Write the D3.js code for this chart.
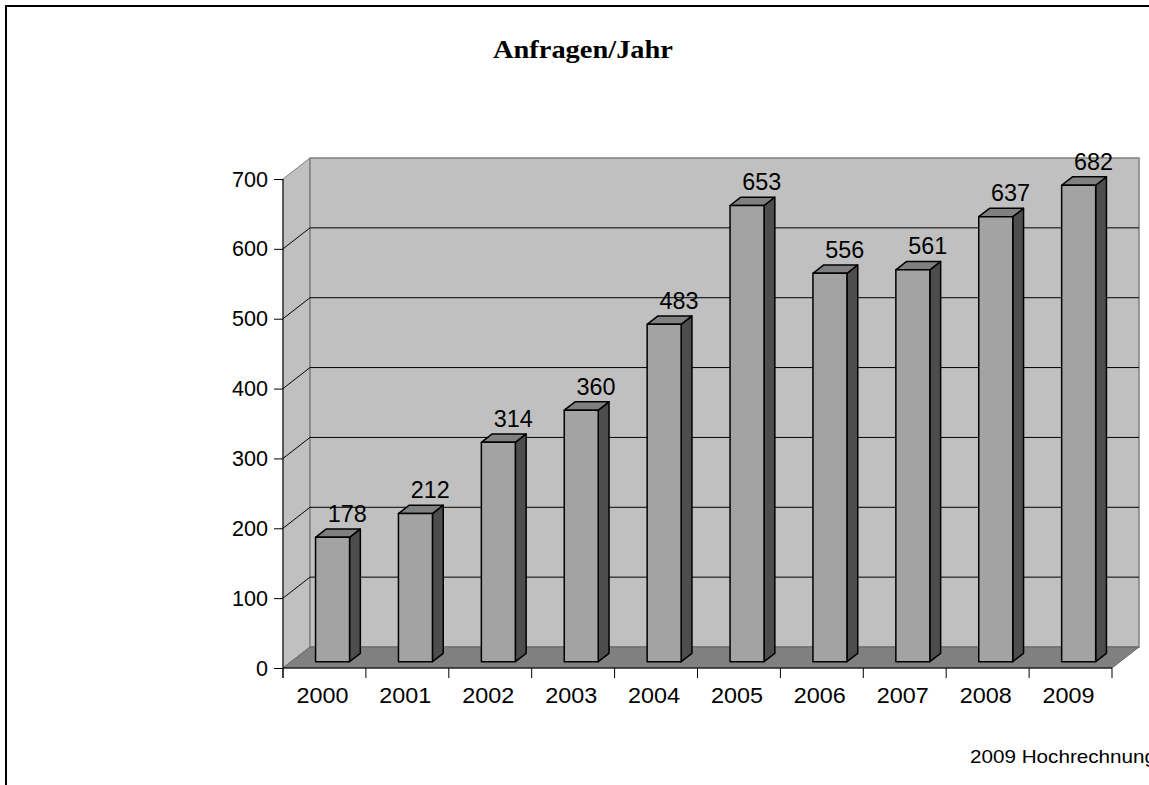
<!DOCTYPE html>
<html>
<head>
<meta charset="utf-8">
<script src="https://cdn.jsdelivr.net/npm/d3@7"></script>
<style>
  html, body { margin: 0; padding: 0; background: #fff; overflow: hidden; }
  svg { display: block; }
</style>
</head>
<body>
<svg id="chart" width="1149" height="785"></svg>
<script>
// Anfragen pro Jahr (2009 = Hochrechnung)
const years = ["2000", "2001", "2002", "2003", "2004", "2005", "2006", "2007", "2008", "2009"];
const requests = [178, 212, 314, 360, 483, 653, 556, 561, 637, 682];
const yTicks = [0, 100, 200, 300, 400, 500, 600, 700];
const titleText = "Anfragen/Jahr";
const noteText = "2009 Hochrechnung";

const svg = d3.select("#chart");
const sans = "'Liberation Sans', Arial, sans-serif";

// frame around the whole chart area
svg.append("rect")
  .attr("x", 6).attr("y", 6)
  .attr("width", 1170).attr("height", 820)
  .attr("fill", "#fff").attr("stroke", "#000").attr("stroke-width", 2);

// plot geometry: front plane + depth vector towards the back wall
const x0 = 283, x1 = 1112, yBase = 668, yTop = 179;
const depth = { dx: 27, dy: -21 };
const y = d3.scaleLinear().domain([0, 700]).range([yBase, yTop]);
const cat = d3.scaleBand().domain(years).range([x0, x1]).padding(0);
const bar = d3.scaleBand().domain(years).range([x0, x1])
  .paddingInner(0.59).paddingOuter(0.295);

const pt = (px, py, f) => [px + depth.dx * f, py + depth.dy * f];
const poly = pts => "M" + pts.map(p => p.join(",")).join("L") + "Z";

// side wall (left)
svg.append("path")
  .attr("d", poly([pt(x0, y(0), 0), pt(x0, y(0), 1), pt(x0, y(700), 1), pt(x0, y(700), 0)]))
  .attr("fill", "#c0c0c0").attr("stroke", "#808080").attr("stroke-width", 1);

// back wall
const bwL = pt(x0, y(700), 1), bwR = pt(x1, y(0), 1);
svg.append("rect")
  .attr("x", bwL[0]).attr("y", bwL[1])
  .attr("width", bwR[0] - bwL[0]).attr("height", bwR[1] - bwL[1])
  .attr("fill", "#c0c0c0").attr("stroke", "#808080").attr("stroke-width", 1.5);

// gridlines on back wall and side wall
const gridVals = yTicks.filter(v => v > 0 && v < 700);
svg.append("g").selectAll("path").data(gridVals).join("path")
  .attr("d", v => {
    const a = pt(x0, y(v), 0), b = pt(x0, y(v), 1), c = pt(x1, y(v), 1);
    return "M" + a.join(",") + "L" + b.join(",") + "L" + c.join(",");
  })
  .attr("fill", "none").attr("stroke", "#000").attr("stroke-width", 1);

// floor
svg.append("path")
  .attr("d", poly([pt(x0, y(0), 0), pt(x0, y(0), 1), pt(x1, y(0), 1), pt(x1, y(0), 0)]))
  .attr("fill", "#808080").attr("stroke", "#666").attr("stroke-width", 1);

// 3D bars, standing between depth fractions f1 and f2
const f1 = 0.3, f2 = 0.7;
const bw = bar.bandwidth();
const bars = svg.append("g").selectAll("g").data(years.map((yr, i) => ({ yr, v: requests[i] }))).join("g");

bars.each(function (d) {
  const g = d3.select(this);
  const xl = bar(d.yr), xr = xl + bw;
  const yt = y(d.v), yb = y(0);
  // right side
  g.append("path")
    .attr("d", poly([pt(xr, yb, f1), pt(xr, yb, f2), pt(xr, yt, f2), pt(xr, yt, f1)]))
    .attr("fill", "#4d4d4d").attr("stroke", "#000").attr("stroke-width", 1.5)
    .attr("stroke-linejoin", "round");
  // top
  g.append("path")
    .attr("d", poly([pt(xl, yt, f1), pt(xr, yt, f1), pt(xr, yt, f2), pt(xl, yt, f2)]))
    .attr("fill", "#808080").attr("stroke", "#000").attr("stroke-width", 1.5)
    .attr("stroke-linejoin", "round");
  // front
  g.append("path")
    .attr("d", poly([pt(xl, yb, f1), pt(xr, yb, f1), pt(xr, yt, f1), pt(xl, yt, f1)]))
    .attr("fill", "#a3a3a3").attr("stroke", "#000").attr("stroke-width", 1.5)
    .attr("stroke-linejoin", "round");
  // value label above the bar
  const lp = pt(xl + bw / 2, yt, f2);
  g.append("text")
    .attr("x", lp[0] + 4).attr("y", lp[1] - 7)
    .attr("text-anchor", "middle")
    .attr("font-family", sans)
    .attr("font-size", 23)
    .attr("textLength", String(d.v).length * 13)
    .attr("lengthAdjust", "spacingAndGlyphs")
    .attr("fill", "#000")
    .text(d.v);
});

// value axis
const yAxis = d3.axisLeft(y).tickValues(yTicks).tickSize(9).tickPadding(6).tickFormat(d3.format("d"));
const gy = svg.append("g").attr("transform", `translate(${x0},0)`).call(yAxis);
gy.select(".domain").attr("stroke", "#000").attr("d", `M0,${y(700)}V${y(0) + 10}`);
gy.selectAll(".tick line").attr("stroke", "#000");
gy.selectAll(".tick text")
  .attr("font-family", sans)
  .attr("font-size", 22)
  .attr("textLength", d => String(d).length * 12)
  .attr("lengthAdjust", "spacingAndGlyphs")
  .attr("fill", "#000");

// category axis with ticks at the category boundaries
const gx = svg.append("g");
gx.append("line")
  .attr("x1", x0).attr("x2", x1).attr("y1", yBase).attr("y2", yBase)
  .attr("stroke", "#000");
const bounds = years.map(yr => cat(yr)).concat([x1]);
gx.selectAll("line.tk").data(bounds).join("line").attr("class", "tk")
  .attr("x1", d => d).attr("x2", d => d)
  .attr("y1", yBase).attr("y2", yBase + 10)
  .attr("stroke", "#000");
gx.selectAll("text").data(years).join("text")
  .attr("x", d => cat(d) + cat.bandwidth() / 2 - 2)
  .attr("y", 703)
  .attr("text-anchor", "middle")
  .attr("font-family", sans)
  .attr("font-size", 22)
  .attr("textLength", d => d.length * 13)
  .attr("lengthAdjust", "spacingAndGlyphs")
  .attr("fill", "#000")
  .text(d => d);

// title
svg.append("text")
  .attr("x", 583).attr("y", 58)
  .attr("text-anchor", "middle")
  .attr("font-family", "'Liberation Serif', 'Times New Roman', serif")
  .attr("font-weight", "bold")
  .attr("font-size", 26)
  .attr("textLength", 180)
  .attr("lengthAdjust", "spacingAndGlyphs")
  .attr("fill", "#000")
  .text(titleText);

// footnote
svg.append("text")
  .attr("x", 970).attr("y", 763)
  .attr("font-family", sans)
  .attr("font-size", 18.5)
  .attr("textLength", 186)
  .attr("lengthAdjust", "spacingAndGlyphs")
  .attr("fill", "#000")
  .text(noteText);
</script>
</body>
</html>
